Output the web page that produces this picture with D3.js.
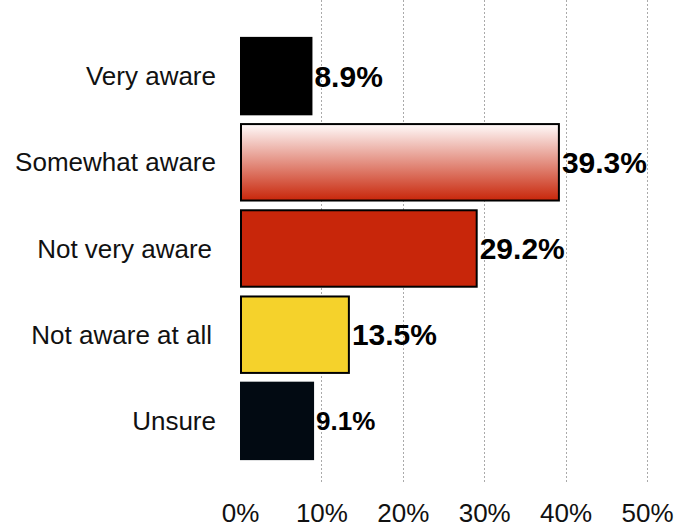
<!DOCTYPE html>
<html>
<head>
<meta charset="utf-8">
<script src="https://cdn.jsdelivr.net/npm/d3@7"></script>
<style>
  html, body { margin: 0; padding: 0; background: #fff; }
  svg { display: block; font-family: "Liberation Sans", Arial, Helvetica, sans-serif; }
</style>
</head>
<body>
<script>
const categories = ["Very aware", "Somewhat aware", "Not very aware", "Not aware at all", "Unsure"];
const values = [8.9, 39.3, 29.2, 13.5, 9.1];
const valueLabels = ["8.9%", "39.3%", "29.2%", "13.5%", "9.1%"];
const tickValues = [0, 10, 20, 30, 40, 50];
const tickLabels = ["0%", "10%", "20%", "30%", "40%", "50%"];

// styles
const fills = ["#000000", "url(#grad)", "#c8260a", "#f5d22b", "#020a12"];
const strokes = ["none", "#000", "#000", "#000", "none"];
const labelSizes = [30, 30, 30, 30, 26];
const catShift = [0, 0, -4, -4, 0];

const W = 675, H = 529;
const svg = d3.select("body").append("svg").attr("width", W).attr("height", H);

const defs = svg.append("defs");
const grad = defs.append("linearGradient").attr("id", "grad")
  .attr("x1", 0).attr("y1", 0).attr("x2", 0).attr("y2", 1);
grad.append("stop").attr("offset", "0%").attr("stop-color", "#fffafa");
grad.append("stop").attr("offset", "100%").attr("stop-color", "#c8260a");

const x = d3.scaleLinear().domain([0, 50]).range([240, 647]);
const y = d3.scaleBand().domain(categories).range([33, 464]).paddingInner(0.09).paddingOuter(0.045);

// gridlines
svg.append("g").selectAll("line").data(tickValues.filter(d => d > 0)).join("line")
  .attr("x1", d => Math.round(x(d)) + 0.5).attr("x2", d => Math.round(x(d)) + 0.5)
  .attr("y1", 0).attr("y2", 484)
  .attr("stroke", "#aaa").attr("stroke-width", 1).attr("stroke-dasharray", "2,2");

// x axis labels
const xAxis = d3.axisBottom(x).tickValues(tickValues).tickFormat((d, i) => tickLabels[i])
  .tickSize(0).tickPadding(0);
const gx = svg.append("g").attr("transform", "translate(0,504)").call(xAxis);
gx.select(".domain").remove();
gx.selectAll("text").attr("font-size", 26).attr("fill", "#111")
  .attr("font-family", "'Liberation Sans', Arial, sans-serif").attr("dy", "0.71em");

// y axis labels
const yAxis = d3.axisLeft(y).tickSize(0).tickPadding(0);
const gy = svg.append("g").attr("transform", "translate(216,0)").call(yAxis);
gy.select(".domain").remove();
gy.selectAll("text").attr("font-size", 26).attr("fill", "#111")
  .attr("font-family", "'Liberation Sans', Arial, sans-serif").attr("dy", "0.35em")
  .attr("dx", (d, i) => catShift[i]);

// bars
const data = categories.map((c, i) => ({ c, v: values[i], i }));
svg.append("g").selectAll("rect").data(data).join("rect")
  .attr("x", d => x(0) + (strokes[d.i] === "none" ? 0 : 1))
  .attr("y", d => y(d.c) + (strokes[d.i] === "none" ? 0 : 1))
  .attr("width", d => x(d.v) - x(0) - (strokes[d.i] === "none" ? 0 : 2))
  .attr("height", d => y.bandwidth() - (strokes[d.i] === "none" ? 0 : 2))
  .attr("fill", d => fills[d.i])
  .attr("stroke", d => strokes[d.i])
  .attr("stroke-width", 2);

// value labels
svg.append("g").selectAll("text").data(data).join("text")
  .attr("x", d => x(d.v) + 2)
  .attr("y", d => y(d.c) + y.bandwidth() / 2)
  .attr("dy", "0.35em")
  .attr("font-size", d => labelSizes[d.i])
  .attr("font-weight", "bold")
  .attr("fill", "#000")
  .text(d => valueLabels[d.i]);
</script>
</body>
</html>
